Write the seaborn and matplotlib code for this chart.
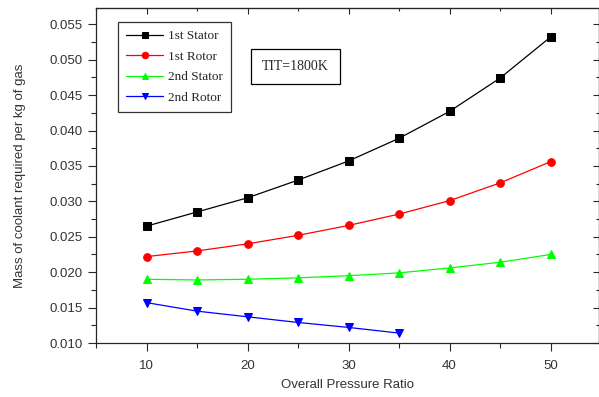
import numpy as np
import pandas as pd
import matplotlib
matplotlib.use("Agg")
import matplotlib.pyplot as plt
import seaborn as sns
from matplotlib.ticker import MultipleLocator

pressure_ratio = [10, 15, 20, 25, 30, 35, 40, 45, 50]
stator1 = [0.0265, 0.0285, 0.0305, 0.0330, 0.0357, 0.0389, 0.0427, 0.0474, 0.0532]
rotor1 = [0.0222, 0.0230, 0.0240, 0.0252, 0.0266, 0.0282, 0.0301, 0.0326, 0.0356]
stator2 = [0.0190, 0.0189, 0.0190, 0.0192, 0.0195, 0.0199, 0.0206, 0.0214, 0.0225]
pressure_ratio_r2 = [10, 15, 20, 25, 30, 35]
rotor2 = [0.0157, 0.0145, 0.0137, 0.0129, 0.0122, 0.0114]

series_names = ["1st Stator", "1st Rotor", "2nd Stator", "2nd Rotor"]
colors = ["black", "red", "#00ff00", "blue"]
markers = ["s", "o", "^", "v"]

sns.set_style("ticks")

fig = plt.figure(figsize=(5.99, 3.97), dpi=100)
ax = fig.add_axes([96/599, 1 - 343/397, 503/599, (343 - 8)/397])

data = [(pressure_ratio, stator1), (pressure_ratio, rotor1),
        (pressure_ratio, stator2), (pressure_ratio_r2, rotor2)]
for (x, y), name, c, m in zip(data, series_names, colors, markers):
    df = pd.DataFrame({"x": x, "y": y})
    sns.lineplot(data=df, x="x", y="y", ax=ax, color=c, marker=m,
                 markersize=5.5, markeredgecolor=c, linewidth=0.9,
                 label=name)

ax.set_xlim(5, 54.8)
ax.set_ylim(0.010, 0.0573)
ax.xaxis.set_major_locator(MultipleLocator(10))
ax.xaxis.set_minor_locator(MultipleLocator(5))
ax.yaxis.set_major_locator(MultipleLocator(0.005))
ax.yaxis.set_minor_locator(MultipleLocator(0.0025))
ax.yaxis.set_major_formatter(matplotlib.ticker.FormatStrFormatter("%.3f"))

ax.tick_params(axis="both", which="major", direction="out", length=5.5,
               width=0.8, labelsize=9.5, labelcolor="#333333",
               top=False, right=False, pad=4)
ax.tick_params(axis="x", which="major", pad=7)
ax.tick_params(axis="both", which="minor", direction="out", length=3.5,
               width=0.8, top=False, right=False)
for lab in ax.get_xticklabels() + ax.get_yticklabels():
    lab.set_fontfamily("Liberation Sans")

# inward ticks on the top and right
sec_x = ax.secondary_xaxis("top")
sec_x.xaxis.set_major_locator(MultipleLocator(10))
sec_x.xaxis.set_minor_locator(MultipleLocator(5))
sec_x.tick_params(which="major", direction="in", length=4, width=0.8, labeltop=False)
sec_x.tick_params(which="minor", direction="in", length=2.5, width=0.8)
sec_x.set_xticklabels([])
sec_y = ax.secondary_yaxis("right")
sec_y.yaxis.set_major_locator(MultipleLocator(0.005))
sec_y.yaxis.set_minor_locator(MultipleLocator(0.0025))
sec_y.tick_params(which="major", direction="in", length=4, width=0.8, labelright=False)
sec_y.tick_params(which="minor", direction="in", length=2.5, width=0.8)
sec_y.set_yticklabels([])

for s in ax.spines.values():
    s.set_linewidth(0.9)

ax.set_xlabel("Overall Pressure Ratio", fontfamily="Liberation Sans",
              fontsize=9.5, color="#333333", labelpad=5)
ax.set_ylabel("Mass of coolant required per kg of gas", fontfamily="Liberation Sans",
              fontsize=9.5, color="#333333", labelpad=17)

leg = ax.legend(loc="upper left", bbox_to_anchor=((118 - 96)/503, 1 - (22 - 8)/335),
                prop={"family": "Liberation Serif", "size": 9.5},
                frameon=True, fancybox=False, edgecolor="black",
                handlelength=2.8, handletextpad=0.4, labelspacing=0.62,
                borderpad=0.62, borderaxespad=0, markerscale=0.85)
leg.get_frame().set_linewidth(0.9)

ax.text((295.5 - 96)/503, 1 - (66.5 - 8)/335, "TIT=1800K", transform=ax.transAxes,
        ha="center", va="center", fontfamily="Liberation Serif", fontsize=10,
        bbox=dict(boxstyle="square,pad=0.8", fc="white", ec="black", lw=0.9))

fig.savefig("out.png", dpi=100)
